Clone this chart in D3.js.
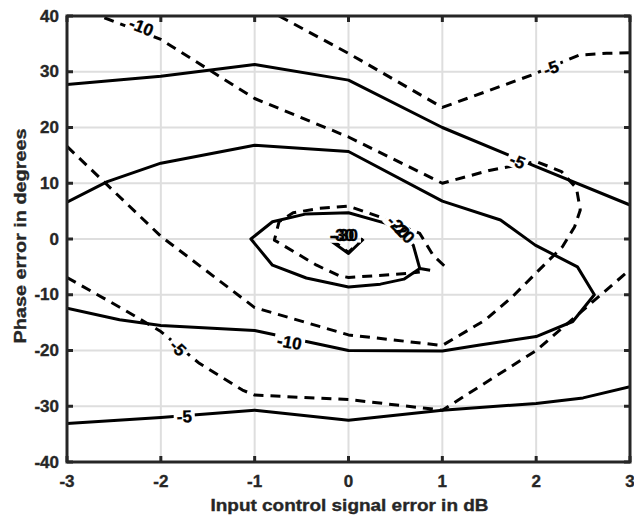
<!DOCTYPE html>
<html>
<head>
<meta charset="utf-8">
<script src="https://cdn.jsdelivr.net/npm/d3@7"></script>
<style>
  body { margin: 0; background: #fff; }
  svg { display: block; font-family: "Liberation Sans", Arial, sans-serif; }
  text { paint-order: stroke; stroke-width: 0.35px; }
</style>
</head>
<body>
<svg id="chart" width="634" height="516"></svg>
<script>
// Axis ticks
const xTicks = [-3, -2, -1, 0, 1, 2, 3];
const yTicks = [-40, -30, -20, -10, 0, 10, 20, 30, 40];

// Contour traces: [amplitude error dB, phase error deg]
const solidMinus5Top = [[-3, 27.7], [-2, 29.2], [-1, 31.3], [0, 28.5], [1, 20], [2, 13], [3, 6.1]];
const solidMinus5Bottom = [[-3, -33.1], [-2, -32], [-1, -30.7], [0, -32.5], [1, -30.7], [2, -29.5], [2.5, -28.5], [3, -26.5]];
const solidMinus10 = [[-3, 6.6], [-2.57, 10.3], [-2, 13.6], [-1, 16.8], [0, 15.7], [1, 6.8], [1.62, 3.4], [1.99, -1.1],
  [2.44, -5.0], [2.62, -10], [2.39, -14.8], [2.0, -17.5], [1.4, -19], [1, -20.1], [0, -20], [-1, -16.4],
  [-2, -15.5], [-2.44, -14.5], [-3, -12.4]];
const solidMinus20 = [[0.87, -5.6], [0.76, -5.3], [0.59, -7.2], [0.34, -8.1], [0, -8.6], [-0.45, -7.0], [-0.81, -4.7],
  [-1.04, 0], [-0.81, 3.1], [-0.45, 4.5], [0, 4.7], [0.4, 2.8], [0.69, -1.1], [0.76, -5.3]];
const solidMinus30 = [[-0.2, -0.2], [0, -2.6], [0.16, 0]];

const dashedMinus5Top = [[-0.74, 40], [0, 33.3], [1, 23.6], [1.95, 29.4], [2.46, 33], [2.75, 33.3], [3, 33.4]];
const dashedMinus5Bottom = [[-3, -6.9], [-2.39, -12.7], [-2, -16.6], [-1.59, -22.3], [-1.13, -27.1], [-1, -28],
  [0, -28.8], [1, -30.7], [2, -20], [3, -5.5]];
const dashedMinus10 = [[-3, 16.6], [-2, 0.5], [-1, -12.3], [0, -17.2], [1, -19.1], [1.46, -14.5], [1.75, -10.3],
  [2.1, -4.4], [2.28, -1.4], [2.41, 2.2], [2.47, 5.2], [2.43, 9.1], [2.27, 12.1], [2, 13.9], [1.5, 12.3],
  [1, 10], [0, 18.3], [-1, 25.2], [-2, 35.8], [-2.65, 40]];
const dashedMinus20 = [[1.02, -4.8], [0.9, -2.9], [0.76, 1.0], [0.33, 4.0], [0, 5.9], [-0.31, 5.5], [-0.59, 4.7],
  [-0.74, 3.1], [-0.79, -0.2], [-0.34, -4.7], [-0.1, -6.6], [0, -6.9], [0.62, -6.2], [0.76, -5.9]];
const dashedMinus30 = [[-0.18, -0.1], [0, -2.4], [0.15, 0.1]];

const contours = [
  { level: -5, dashed: false, points: solidMinus5Top },
  { level: -5, dashed: false, points: solidMinus5Bottom },
  { level: -10, dashed: false, points: solidMinus10 },
  { level: -20, dashed: false, points: solidMinus20 },
  { level: -30, dashed: false, points: solidMinus30 },
  { level: -5, dashed: true, points: dashedMinus5Top },
  { level: -5, dashed: true, points: dashedMinus5Bottom },
  { level: -10, dashed: true, points: dashedMinus10 },
  { level: -20, dashed: true, points: dashedMinus20 },
  { level: -30, dashed: true, points: dashedMinus30 }
];

// Inline contour labels: level, anchor point (data units), rotation
const contourLabels = [
  { level: -10, x: -2.21, y: 38.0, angle: 22 },
  { level: -5, x: 1.80, y: 13.9, angle: 22 },
  { level: -5, x: 2.16, y: 30.6, angle: -20 },
  { level: -5, x: -1.82, y: -19.6, angle: 45 },
  { level: -10, x: -0.63, y: -18.6, angle: 10 },
  { level: -5, x: -1.75, y: -31.9, angle: -3 },
  { level: -20, x: 0.53, y: 2.15, angle: 45 },
  { level: -20, x: 0.58, y: 1.25, angle: 45 },
  { level: -30, x: -0.07, y: 0.7, angle: 0 },
  { level: -30, x: -0.03, y: 0.7, angle: 0 }
];

const W = 634, H = 516;
const margin = { left: 67, top: 16, right: 4, bottom: 54 };
const x = d3.scaleLinear().domain([-3, 3]).range([margin.left, W - margin.right]);
const y = d3.scaleLinear().domain([-40, 40]).range([H - margin.bottom, margin.top]);
const axisColor = "#262626";

const svg = d3.select("#chart");
const defs = svg.append("defs");
defs.append("clipPath").attr("id", "plotclip")
  .append("rect")
  .attr("x", x(-3)).attr("y", y(40))
  .attr("width", x(3) - x(-3)).attr("height", y(-40) - y(40));

const mask = defs.append("mask").attr("id", "labelmask")
  .attr("maskUnits", "userSpaceOnUse")
  .attr("x", 0).attr("y", 0).attr("width", W).attr("height", H);
mask.append("rect").attr("width", W).attr("height", H).attr("fill", "white");

// Grid
const grid = svg.append("g");
grid.selectAll("line.vx").data(xTicks).join("line")
  .attr("x1", d => x(d)).attr("x2", d => x(d))
  .attr("y1", y(40)).attr("y2", y(-40))
  .attr("stroke", "#dedede").attr("stroke-width", 2);
grid.selectAll("line.hy").data(yTicks).join("line")
  .attr("y1", d => y(d)).attr("y2", d => y(d))
  .attr("x1", x(-3)).attr("x2", x(3))
  .attr("stroke", "#dedede").attr("stroke-width", 2);

// Contour lines (broken where the labels sit)
const line = d3.line().x(d => x(d[0])).y(d => y(d[1]));
const lines = svg.append("g").attr("clip-path", "url(#plotclip)")
  .append("g").attr("mask", "url(#labelmask)");
lines.selectAll("path").data(contours).join("path")
  .attr("d", d => line(d.points))
  .attr("fill", "none")
  .attr("stroke", "#000")
  .attr("stroke-width", 3)
  .attr("stroke-linejoin", "round")
  .attr("stroke-dasharray", d => d.dashed ? "10,7" : null);

// Contour labels
const labelG = svg.append("g");
contourLabels.forEach(l => {
  const px = x(l.x), py = y(l.y);
  const t = labelG.append("text")
    .attr("transform", `translate(${px},${py}) rotate(${l.angle})`)
    .attr("text-anchor", "middle")
    .attr("dominant-baseline", "central")
    .attr("font-size", 17)
    .attr("font-weight", "bold")
    .attr("fill", "#000").attr("stroke", "#000")
    .text(String(l.level));
  const bb = t.node().getBBox();
  mask.append("rect")
    .attr("transform", `translate(${px},${py}) rotate(${l.angle})`)
    .attr("x", bb.x - 3).attr("y", bb.y + 2)
    .attr("width", bb.width + 6).attr("height", bb.height - 4)
    .attr("fill", "black");
});

// Frame and ticks
const frame = svg.append("g").attr("stroke", axisColor).attr("stroke-width", 3).attr("fill", "none");
frame.append("rect")
  .attr("x", x(-3)).attr("y", y(40))
  .attr("width", x(3) - x(-3)).attr("height", y(-40) - y(40));
const tl = 6;
xTicks.forEach(v => {
  frame.append("line").attr("x1", x(v)).attr("x2", x(v)).attr("y1", y(-40)).attr("y2", y(-40) - tl);
  frame.append("line").attr("x1", x(v)).attr("x2", x(v)).attr("y1", y(40)).attr("y2", y(40) + tl);
});
yTicks.forEach(v => {
  frame.append("line").attr("y1", y(v)).attr("y2", y(v)).attr("x1", x(-3)).attr("x2", x(-3) + tl);
  frame.append("line").attr("y1", y(v)).attr("y2", y(v)).attr("x1", x(3)).attr("x2", x(3) - tl);
});

// Tick labels
const tickFont = 17;
svg.append("g").selectAll("text").data(xTicks).join("text")
  .attr("x", d => x(d)).attr("y", y(-40) + 25)
  .attr("text-anchor", "middle")
  .attr("font-size", tickFont).attr("font-weight", "bold")
  .attr("fill", axisColor).attr("stroke", axisColor)
  .text(d => d);
svg.append("g").selectAll("text").data(yTicks).join("text")
  .attr("x", x(-3) - 8).attr("y", d => y(d))
  .attr("text-anchor", "end").attr("dominant-baseline", "central")
  .attr("font-size", tickFont).attr("font-weight", "bold")
  .attr("fill", axisColor).attr("stroke", axisColor)
  .text(d => d);

// Axis titles
svg.append("text")
  .attr("x", (x(-3) + x(3)) / 2 + 1).attr("y", 511)
  .attr("text-anchor", "middle")
  .attr("font-size", 17).attr("font-weight", "bold")
  .attr("fill", axisColor).attr("stroke", axisColor)
  .attr("textLength", 278).attr("lengthAdjust", "spacingAndGlyphs")
  .text("Input control signal error in dB");
svg.append("text")
  .attr("transform", `translate(26,${(y(40) + y(-40)) / 2 - 3}) rotate(-90)`)
  .attr("text-anchor", "middle")
  .attr("font-size", 17).attr("font-weight", "bold")
  .attr("fill", axisColor).attr("stroke", axisColor)
  .attr("textLength", 215).attr("lengthAdjust", "spacingAndGlyphs")
  .text("Phase error in degrees");
</script>
</body>
</html>
